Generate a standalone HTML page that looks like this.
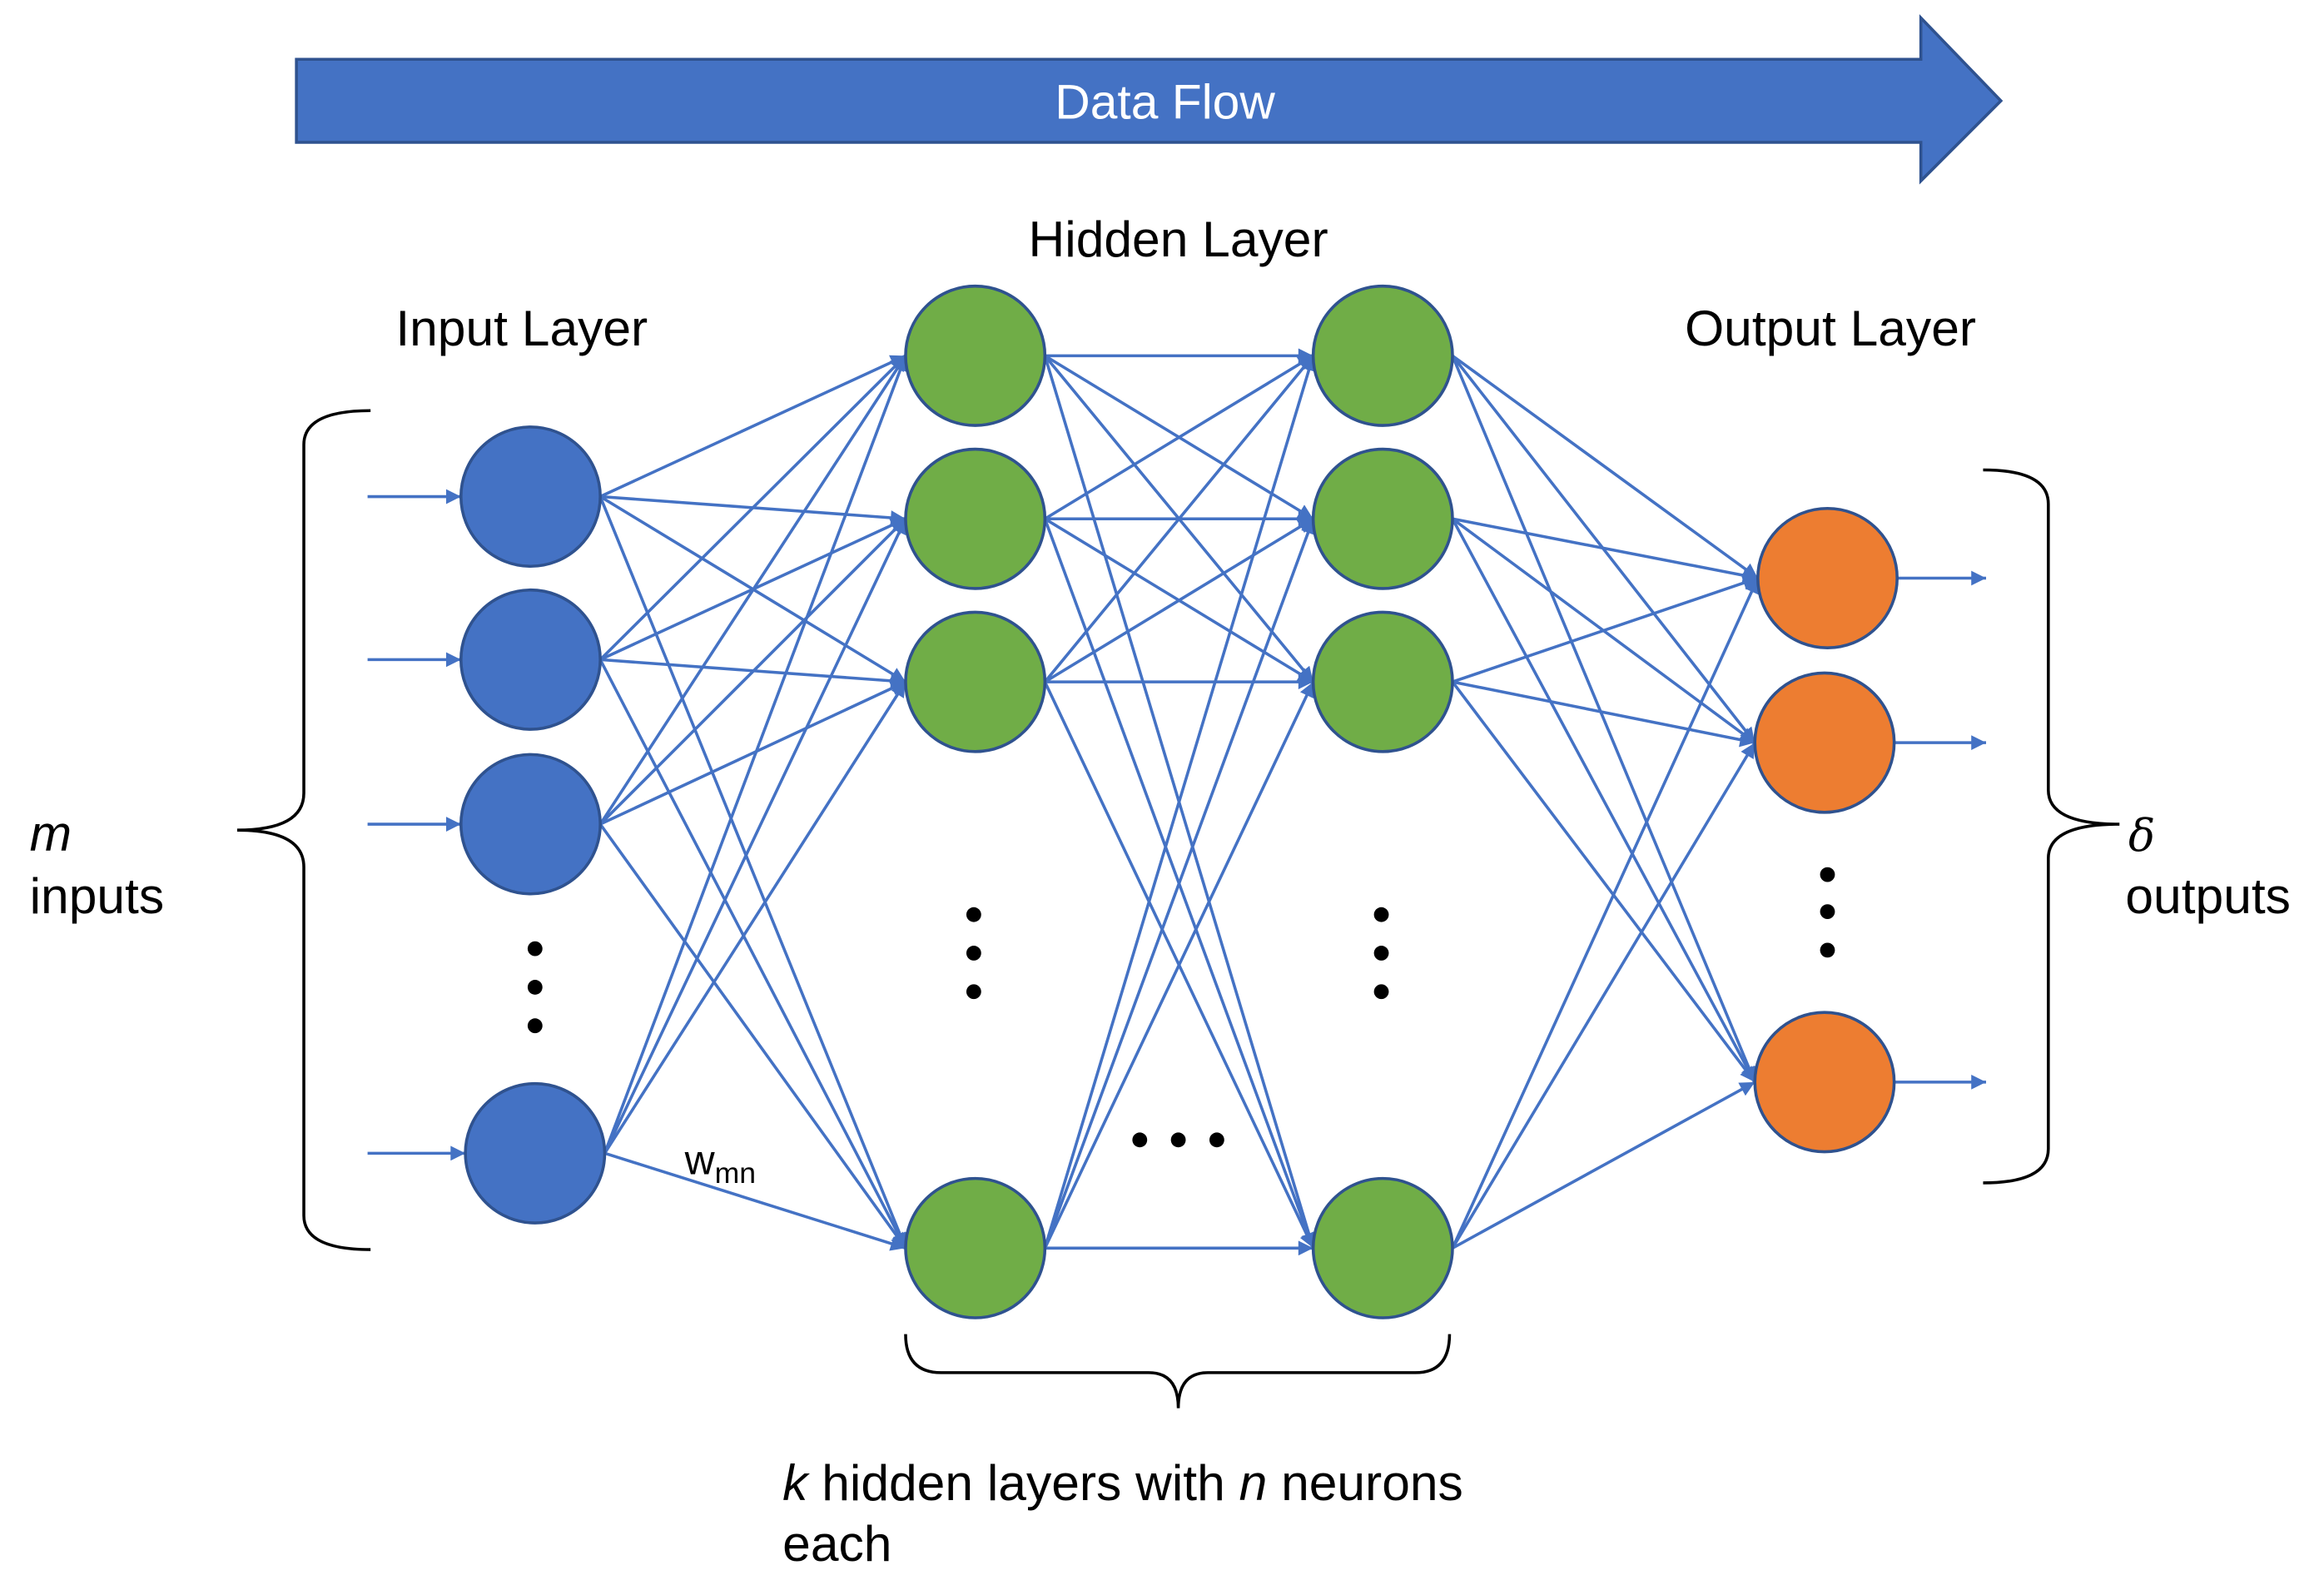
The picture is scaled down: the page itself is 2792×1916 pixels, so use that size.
<!DOCTYPE html>
<html><head><meta charset="utf-8"><style>html,body{margin:0;padding:0;background:#fff}svg{display:block}</style></head>
<body>
<svg width="2792" height="1916" viewBox="0 0 1568 1076" xmlns="http://www.w3.org/2000/svg" font-family="'Liberation Sans', Arial, sans-serif">
<defs><marker id="a" viewBox="0 0 10 10" refX="10" refY="5" markerWidth="11" markerHeight="10" markerUnits="userSpaceOnUse" orient="auto"><path d="M0,0L10,5L0,10z" fill="#4472C4"/></marker></defs>
<polygon points="200,40 1296,40 1296,12 1350,68 1296,122 1296,96 200,96" fill="#4472C4" stroke="#2F528F" stroke-width="2"/>
<text x="786" y="80" font-size="33" fill="#fff" text-anchor="middle">Data Flow</text>
<g stroke="#4472C4" stroke-width="2" fill="none" marker-end="url(#a)" id="lines"></g>
<g id="nodes"></g>
<g fill="#000">
<circle cx="361" cy="640" r="5"/><circle cx="361" cy="666" r="5"/><circle cx="361" cy="692" r="5"/>
<circle cx="657" cy="617" r="5"/><circle cx="657" cy="643" r="5"/><circle cx="657" cy="669" r="5"/>
<circle cx="932" cy="617" r="5"/><circle cx="932" cy="643" r="5"/><circle cx="932" cy="669" r="5"/>
<circle cx="1233" cy="590" r="5"/><circle cx="1233" cy="615" r="5"/><circle cx="1233" cy="641" r="5"/>
<circle cx="769" cy="769" r="5"/><circle cx="795" cy="769" r="5"/><circle cx="821" cy="769" r="5"/>
</g>
<g stroke="#000" stroke-width="2" fill="none">
<path d="M250,277 Q205,277 205,300 L205,535 Q205,560 160,560 Q205,560 205,585 L205,820 Q205,843 250,843"/>
<path d="M1338,317 Q1382,317 1382,340 L1382,533 Q1382,556 1430,556 Q1382,556 1382,579 L1382,775 Q1382,798 1338,798"/>
<path d="M611,900 Q611,926 635,926 L775,926 Q795,926 795,950 Q795,926 815,926 L955,926 Q978,926 978,900"/>
</g>
<g font-size="34" fill="#000">
<text x="352" y="233" text-anchor="middle">Input Layer</text>
<text x="795" y="173" text-anchor="middle">Hidden Layer</text>
<text x="1235" y="233" text-anchor="middle">Output Layer</text>
<text x="20" y="574" font-style="italic">m</text>
<text x="20" y="616">inputs</text>
<text x="1436" y="574" font-style="italic" font-family="'DejaVu Serif', serif" font-size="30">δ</text>
<text x="1434" y="616">outputs</text>
<text x="462" y="792" font-size="28">w<tspan font-size="20" dy="6">mn</tspan></text>
<text x="528" y="1012"><tspan font-style="italic">k</tspan> hidden layers with <tspan font-style="italic">n</tspan> neurons</text>
<text x="528" y="1053">each</text>
</g>
<script>
const L=document.getElementById('lines'),N=document.getElementById('nodes');
const inp=[[358,335],[358,445],[358,556],[361,778]];
const h1=[[658,240],[658,350],[658,460],[658,842]];
const h2=[[933,240],[933,350],[933,460],[933,842]];
const out=[[1233,390],[1231,501],[1231,730]];
const r=47;
function ln(x1,y1,x2,y2){const e=document.createElementNS('http://www.w3.org/2000/svg','line');e.setAttribute('x1',x1);e.setAttribute('y1',y1);e.setAttribute('x2',x2);e.setAttribute('y2',y2);L.appendChild(e);}
function conn(A,B){for(const a of A)for(const b of B)ln(a[0]+r,a[1],b[0]-r,b[1]);}
conn(inp,h1);conn(h1,h2);conn(h2,out);
for(const a of inp)ln(248,a[1],a[0]-r,a[1]);
for(const a of out)ln(a[0]+r,a[1],1340,a[1]);
function nd(A,f){for(const a of A){const c=document.createElementNS('http://www.w3.org/2000/svg','circle');c.setAttribute('cx',a[0]);c.setAttribute('cy',a[1]);c.setAttribute('r',r);c.setAttribute('fill',f);c.setAttribute('stroke','#2F528F');c.setAttribute('stroke-width','2');N.appendChild(c);}}
nd(inp,'#4472C4');nd(h1,'#70AD47');nd(h2,'#70AD47');nd(out,'#ED7D31');
</script>
</svg>
</body></html>
